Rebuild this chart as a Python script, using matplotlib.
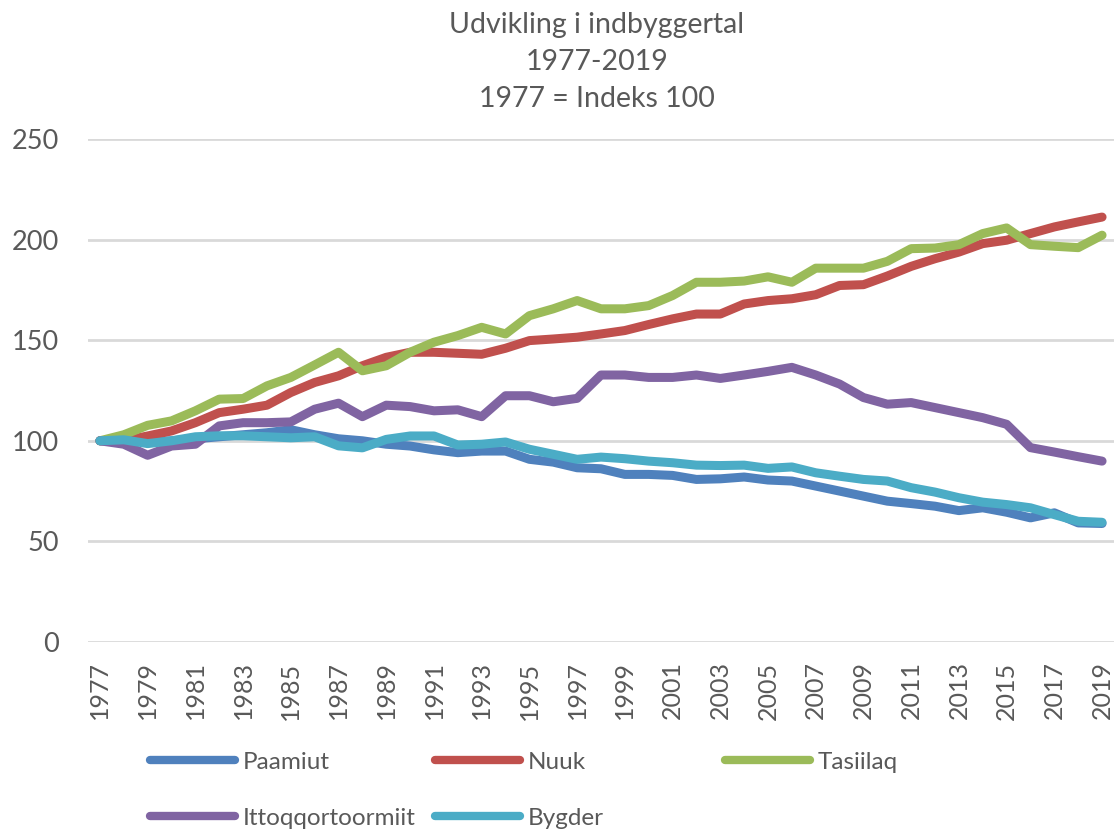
import matplotlib
matplotlib.use("Agg")
import matplotlib.pyplot as plt

years = list(range(1977, 2020))

paamiut = [100, 100, 99.5, 100, 101, 102, 103, 104, 105.5, 103, 101, 100, 98.3, 97.4,
           95.5, 94.1, 94.9, 94.9, 90.8, 89.4, 86.6, 86.1, 83.3, 83.3, 82.8, 80.8, 81.1,
           82, 80.5, 80, 77.5, 75, 72.5, 70, 68.8, 67.5, 65.3, 66.7, 64.5, 61.7, 64.2,
           59.2, 58.9]
nuuk = [100, 100, 102.4, 104.9, 109, 114, 115.7, 117.7, 124, 129, 132.3, 137.3, 141.5,
        144, 144, 143.5, 143, 146, 149.8, 150.6, 151.5, 153.1, 154.8, 157.8, 160.6, 163,
        163, 168, 169.7, 170.6, 172.6, 177.2, 177.6, 181.9, 186.7, 190.5, 193.8, 198,
        199.7, 203, 206.3, 208.8, 211.2]
tasiilaq = [100, 103, 107.7, 109.9, 114.9, 120.7, 121, 127.3, 131.5, 137.7, 144, 134.8,
            137.3, 144, 149, 152.3, 156.4, 153.1, 162.2, 165.6, 169.7, 165.6, 165.6, 167.2,
            172.2, 178.8, 178.8, 179.4, 181.5, 178.8, 185.8, 185.8, 185.8, 189.2, 195.5,
            195.8, 197.5, 203, 205.8, 197.5, 196.7, 196, 202.2]
ittoqqortoormiit = [100, 98.3, 92.8, 97.4, 98.3, 107.4, 109, 109, 109.4, 115.7, 118.7, 112,
                    117.7, 117, 114.9, 115.4, 112, 122.4, 122.4, 119.4, 121.1, 132.7, 132.7,
                    131.5, 131.5, 132.7, 131, 132.7, 134.5, 136.5, 132.7, 128.2, 121.5,
                    118.2, 119, 116.5, 114, 111.5, 108.2, 96.6, 94.4, 92.1, 89.9]
bygder = [100, 100.5, 98.6, 100, 102, 102.5, 102.5, 102, 101.5, 102, 97.5, 96.5, 100.7,
          102.4, 102.4, 97.9, 98.3, 99.4, 95.8, 93.3, 90.8, 91.9, 91.1, 89.9, 89.1, 87.9,
          87.7, 87.9, 86.3, 87, 84.1, 82.4, 80.8, 80, 76.7, 74.5, 71.7, 69.5, 68.3, 66.7,
          63.3, 60, 59.5]

names = ["Paamiut", "Nuuk", "Tasiilaq", "Ittoqqortoormiit", "Bygder"]
series = [paamiut, nuuk, tasiilaq, ittoqqortoormiit, bygder]
colors = ["#4F81BD", "#C0504D", "#9BBB59", "#8064A2", "#4BACC6"]

title_lines = ["Udvikling i indbyggertal", "1977-2019", "1977 = Indeks 100"]
yticks = [0, 50, 100, 150, 200, 250]
xticks = years[::2]

plt.rcParams['font.family'] = ['Lato', 'DejaVu Sans']
txt = "#595959"

W, H = 1117, 832
fig = plt.figure(figsize=(W / 100, H / 100), dpi=100)
ax = fig.add_axes([88 / W, 1 - 642 / H, (1114 - 88) / W, (642 - 139) / H])

lines = []
for name, vals, c in zip(names, series, colors):
    ln, = ax.plot(years, vals, color=c, lw=6.5, solid_capstyle='round',
                  solid_joinstyle='round', label=name)
    lines.append(ln)

ax.set_xlim(1976.5, 2019.5)
ax.set_ylim(0, 250)
ax.set_yticks(yticks)
ax.set_yticklabels([str(v) for v in yticks])
ax.set_xticks(xticks)
ax.set_xticklabels([str(y) for y in xticks], rotation=90)
ax.tick_params(axis='y', length=0, pad=21, labelsize=19.5, labelcolor=txt)
ax.tick_params(axis='x', length=0, pad=14, labelsize=18, labelcolor=txt)
ax.grid(axis='y', color='#D9D9D9', lw=2)
ax.set_axisbelow(True)
for s in ax.spines.values():
    s.set_visible(False)

for line_txt, yc in zip(title_lines, [25, 62, 99]):
    fig.text(597 / W, 1 - yc / H, line_txt, ha='center', va='center',
             fontsize=20.5, color=txt)

# legend entries: (series index, left x px, centre y px)
legend_pos = [(0, 150, 762), (1, 435, 762), (2, 725, 762), (3, 150, 818), (4, 435, 818)]
for i, xp, yp in legend_pos:
    lg = fig.legend([lines[i]], [names[i]], loc='center left',
                    bbox_to_anchor=(xp / W, 1 - yp / H), frameon=False,
                    fontsize=17.5, handlelength=3.5, handletextpad=0.3,
                    borderpad=0, borderaxespad=0, labelcolor=txt)
    for h in lg.legend_handles:
        h.set_linewidth(6)
        h.set_solid_capstyle('round')

fig.savefig("out.png", dpi=100)
